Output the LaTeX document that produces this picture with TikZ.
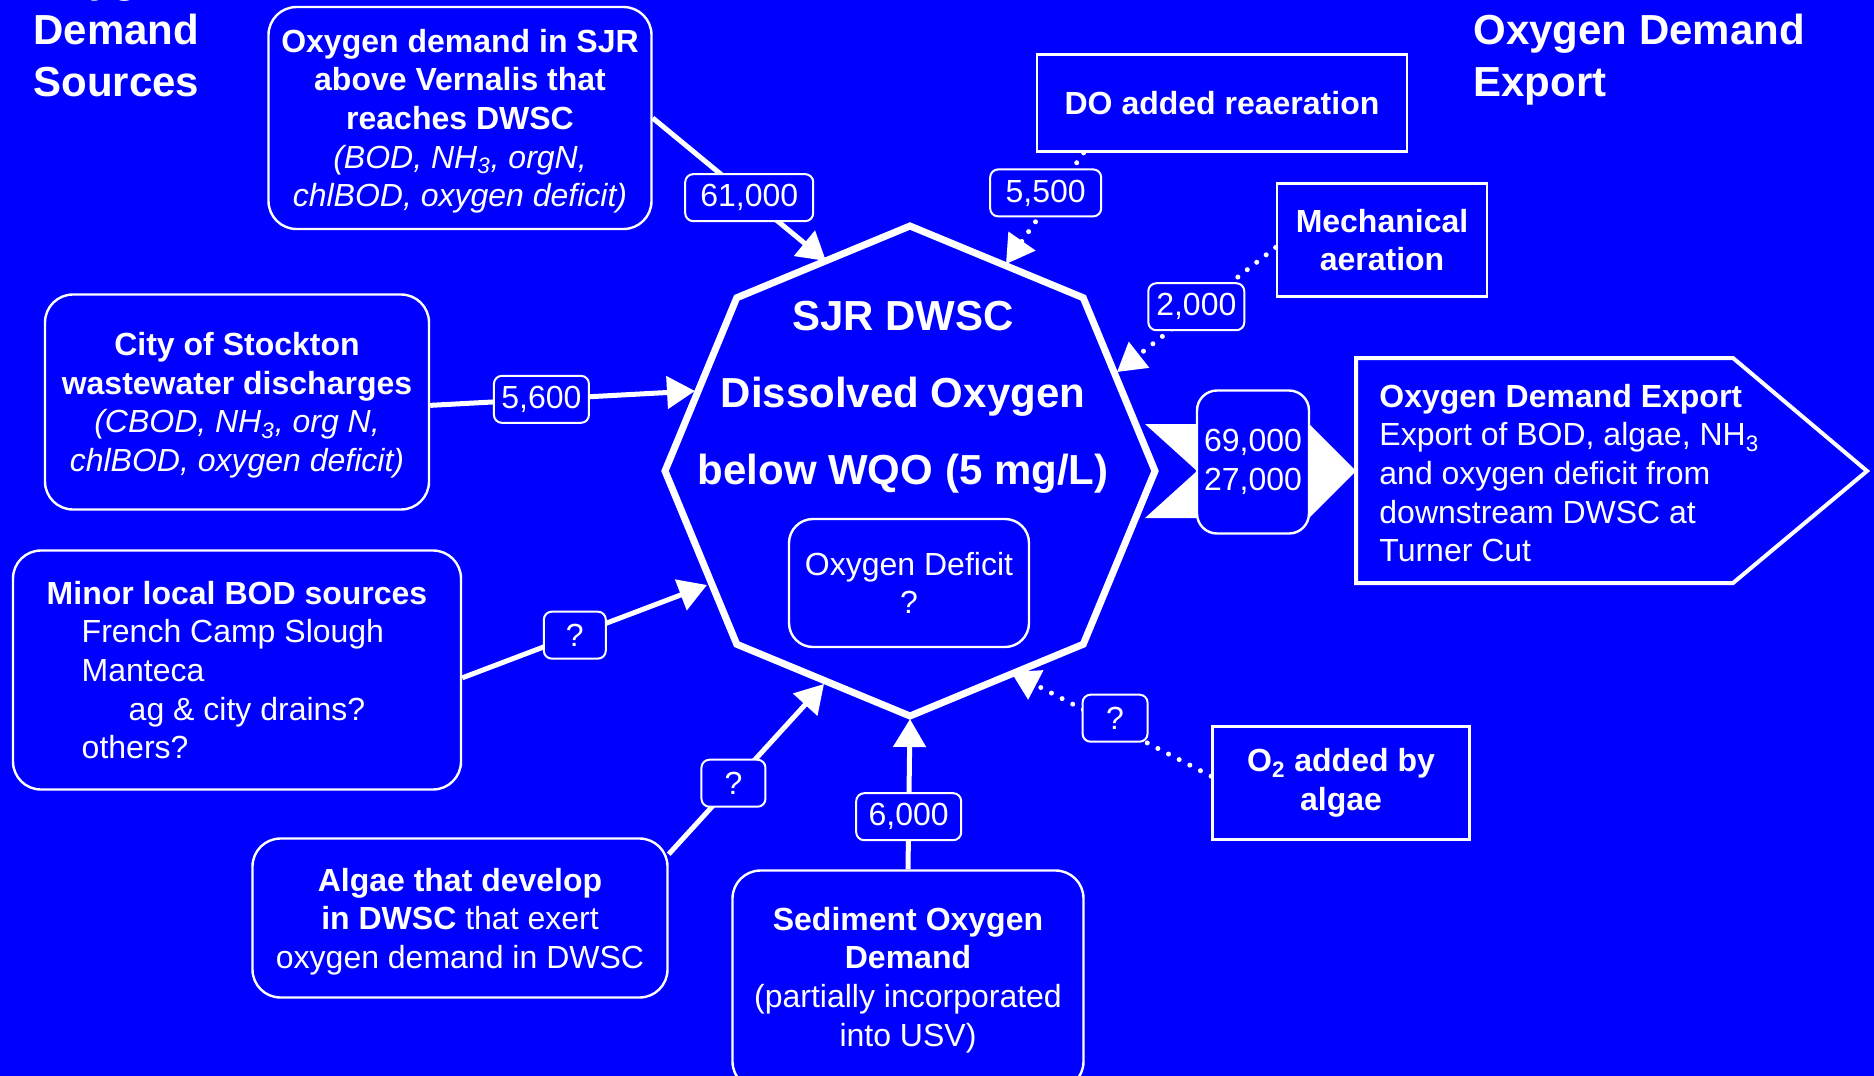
\documentclass[tikz,border=0pt]{standalone}
\usepackage{fontspec}
\setmainfont{Liberation Sans}
\usetikzlibrary{arrows.meta,shapes.geometric}
\definecolor{dwblue}{RGB}{0,0,255}
\newcommand{\dwtext}{\fontsize{16pt}{19.3pt}\selectfont}
\newcommand{\dwhead}{\bfseries\fontsize{21pt}{26pt}\selectfont}
\newcommand{\dwcore}{\bfseries\fontsize{21pt}{38.5pt}\selectfont}

\tikzset{
  srcbox/.style={draw=white, line width=1.2pt, rounded corners=14pt, fill=dwblue, text=white, align=center, font=\dwtext, inner sep=0pt},
  plainbox/.style={draw=white, line width=1.4pt, fill=dwblue, text=white, align=center, font=\dwtext\bfseries, inner sep=0pt},
  valbox/.style={draw=white, solid, line cap=butt, line width=1pt, rounded corners=4pt, fill=dwblue, text=white, font=\dwtext, inner sep=0pt, minimum height=23.5pt},
  flow/.style={draw=white, line width=2.5pt, -{Triangle[length=14pt,width=16pt]}},
  dotflow/.style={flow, line cap=round, dash pattern=on 0pt off 6pt},
  title/.style={text=white, font=\dwhead, align=left, anchor=west, inner sep=0pt}
}

\begin{document}
\begin{tikzpicture}[x=0.5pt, y=-0.5pt]
                \useasboundingbox (0,0) rectangle (1874,1076);
                \clip (0,0) rectangle (1874,1076);
                \fill[dwblue] (0,0) rectangle (1874,1076);

                % Titles
                \node[title] (srctitle) at (33,30) {Oxygen\\Demand\\Sources};
                \node[title] (exptitle) at (1473,60) {Oxygen Demand\\Export};

                % DWSC
                \node[draw=white, line width=3.5pt, regular polygon, regular polygon sides=8,
                      shape border rotate=22.5, minimum size=245pt, inner sep=0pt] (dwsc) at (910,471) {};
                \node[text=white, font=\dwcore, align=center] (dwsctxt) at (903,397)
                    {SJR DWSC\\Dissolved Oxygen\\below WQO (5 mg/L)};
                \node[srcbox, rounded corners=12pt, minimum width=120pt, minimum height=64pt] (deficit) at (909,583)
                    {Oxygen Deficit\\?};

                % Sources
                \node[srcbox, text depth=-5pt, minimum width=191.5pt, minimum height=111pt] (sjr) at (460,118)
                    {\bfseries Oxygen demand in SJR\\\bfseries above Vernalis that\\\bfseries reaches DWSC\\
                     \itshape (BOD, NH\textsubscript{3}, orgN,\\\itshape chlBOD, oxygen deficit)};
                \node[srcbox, text depth=-4.5pt, minimum width=192pt, minimum height=107.5pt] (stockton) at (237,402)
                    {\bfseries City of Stockton\\\bfseries wastewater discharges\\
                     \itshape (CBOD, NH\textsubscript{3}, org N,\\\itshape chlBOD, oxygen deficit)};
                \node[srcbox, align=left, minimum width=224pt, minimum height=119.5pt] (minor) at (237,670)
                    {\bfseries Minor local BOD sources\\\hspace*{17.5pt}French Camp Slough\\\hspace*{17.5pt}Manteca\\
                     \hspace*{41pt}ag \& city drains?\\\hspace*{17.5pt}others?};
                \node[srcbox, text depth=-3.5pt, minimum width=207.5pt, minimum height=79.5pt] (algae) at (460,918)
                    {\bfseries Algae that develop\\\textbf{in DWSC} that exert\\oxygen demand in DWSC};
                \node[srcbox, minimum width=175.5pt, minimum height=109.5pt] (sod) at (908,980)
                    {\bfseries Sediment Oxygen\\\bfseries Demand\\(partially incorporated\\into USV)};

                % Sinks
                \node[plainbox, minimum width=185pt, minimum height=48.5pt] (reaer) at (1222,103) {DO added reaeration};
                \node[plainbox, minimum width=105pt, minimum height=56.5pt] (mech) at (1382,240) {Mechanical\\aeration};
                \node[plainbox, minimum width=128.5pt, minimum height=56.5pt] (photo) at (1341,783)
                    {O\textsubscript{2} added by\\algae};

                % Export
                \draw[white, line width=2pt, fill=dwblue] (1356,358) -- (1733,358) -- (1867,471) -- (1733,583) -- (1356,583) -- cycle;
                \node[text=white, font=\dwtext, align=left, anchor=west, inner sep=0pt] (export) at (1379,473)
                    {\bfseries Oxygen Demand Export\\Export of BOD, algae, NH\textsubscript{3}\\and oxygen deficit from\\
                     downstream DWSC at\\Turner Cut};
                \fill[white] (1145,424) -- (1309,424) -- (1356,471) -- (1309,518) -- (1145,518) -- (1197,471) -- cycle;
                \node[srcbox, rounded corners=10pt, minimum width=56pt, minimum height=71.5pt] (outflow) at (1253,462)
                    {69,000\\27,000};

                % Arrow ends on the octagon
                \coordinate (t61) at (826,261);
                \coordinate (t55) at (1006,264);
                \coordinate (t20) at (1117,372);
                \coordinate (t56) at (695,391);
                \coordinate (tq1) at (707,585);
                \coordinate (tq2) at (824,684);
                \coordinate (t60) at (910,719);
                \coordinate (tq3) at (1011,672);

                % Loads
                \draw[flow] (sjr.east) -- node[valbox, pos=0.557, minimum width=64pt] (l61) {61,000} (t61);
                \draw[flow] (stockton.-1.8) -- node[valbox, pos=0.42, minimum width=47.5pt] (l56) {5,600} (t56);
                \draw[flow] (minor.-2.3) -- node[valbox, pos=0.46, minimum width=31pt] (lq1) {?} (tq1);
                \draw[flow] (algae.17) -- node[valbox, pos=0.417, minimum width=32pt] (lq2) {?} (tq2);
                \draw[flow] (sod.north) -- node[valbox, pos=0.35, minimum width=52.5pt] (l60) {6,000} (t60);
                \draw[dotflow] ([xshift=24pt]reaer.south west) -- node[valbox, pos=0.36, xshift=-5pt, minimum width=55.5pt] (l55) {5,500} (t55);
                \draw[dotflow] (mech.184) -- node[valbox, pos=0.5, yshift=1.5pt, minimum width=48pt] (l20) {2,000} (t20);
                \draw[dotflow] (photo.177) -- node[valbox, pos=0.48, yshift=4pt, minimum width=32.5pt] (lq3) {?} (tq3);
            \end{tikzpicture}
\end{document}
